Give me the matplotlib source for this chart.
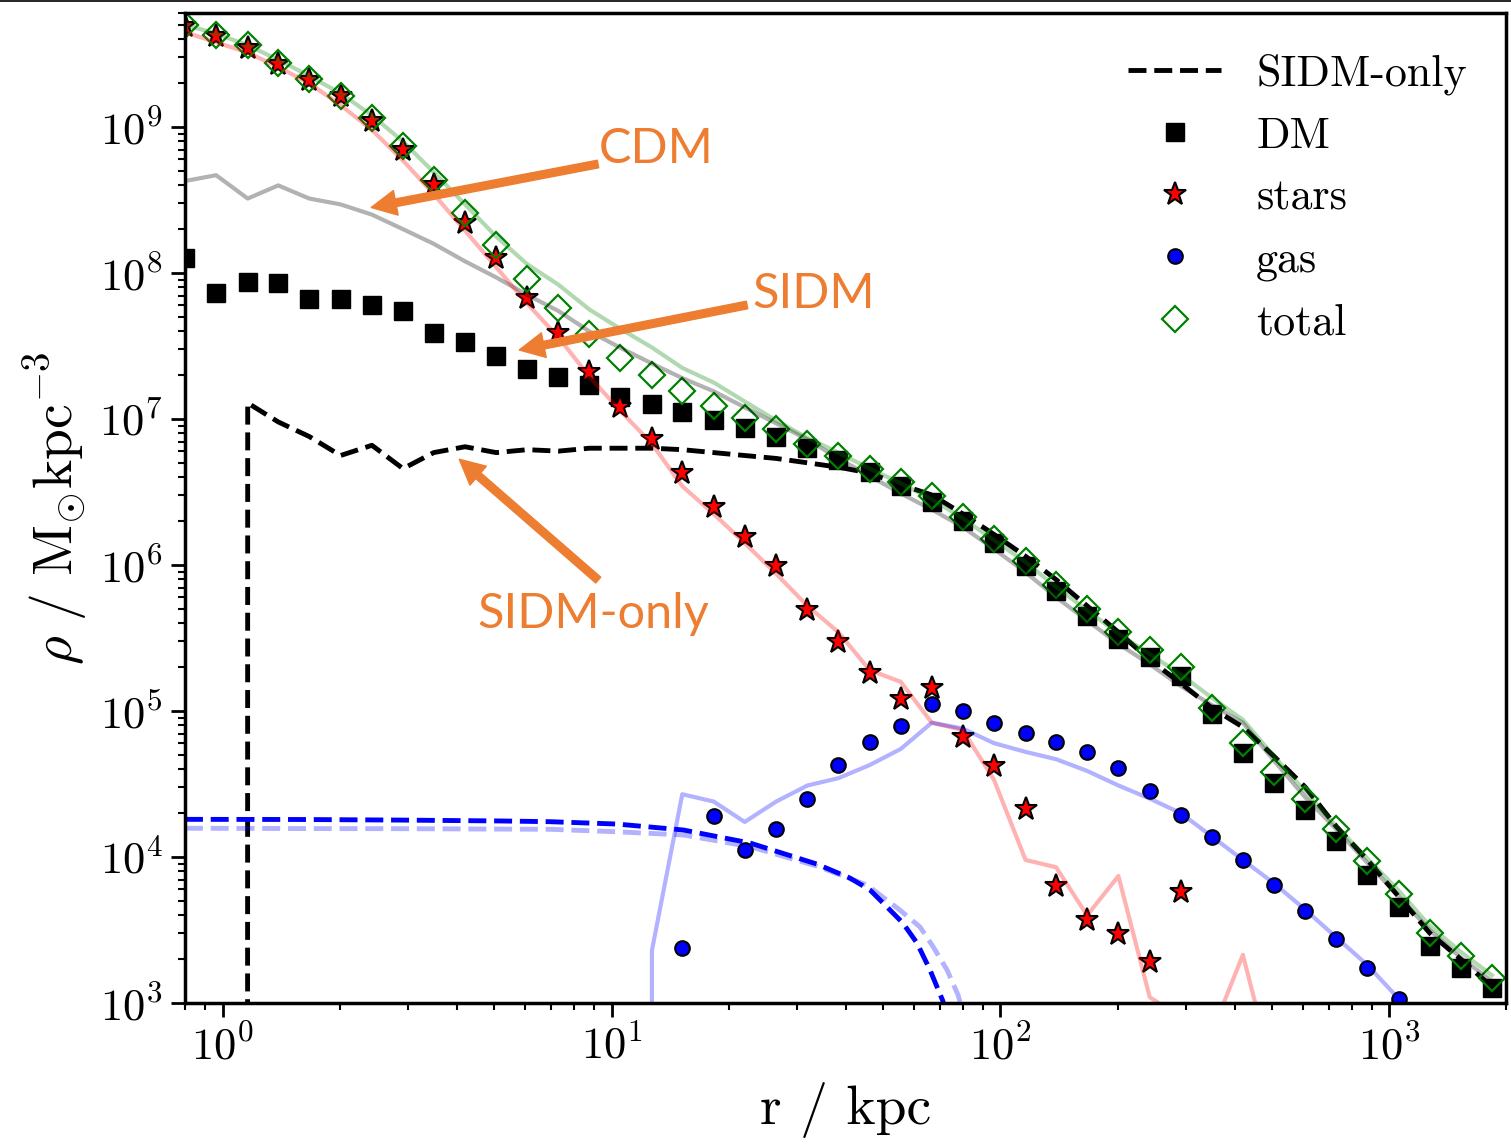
import numpy as np
import matplotlib
matplotlib.use("Agg")
import matplotlib.pyplot as plt
from matplotlib.ticker import NullFormatter

plt.rcParams['font.family'] = 'serif'
plt.rcParams['font.serif'] = ['cmr10']
plt.rcParams['mathtext.fontset'] = 'cm'
plt.rcParams['axes.formatter.use_mathtext'] = True
plt.rcParams['axes.unicode_minus'] = False

ninf = -np.inf   # empty bin -> zero density
nan = np.nan

# radial bins [kpc]
r = [0.800, 0.962, 1.16, 1.39, 1.67, 2.01, 2.42, 2.91, 3.49, 4.20, 5.05,
     6.07, 7.30, 8.77, 10.5, 12.7, 15.2, 18.3, 22.0, 26.5, 31.9, 38.3,
     46.1, 55.4, 66.6, 80.0, 96.2, 116, 139, 167, 201, 242, 291, 350,
     420, 505, 607, 730, 878, 1056, 1269, 1526, 1835]

# SIDM run, log10 density [Msun/kpc^3]
log_dm = [8.10, 7.86, 7.94, 7.93, 7.82, 7.82, 7.78, 7.74, 7.59, 7.53, 7.43,
          7.34, 7.29, 7.23, 7.15, 7.10, 7.05, 6.99, 6.94, 6.88, 6.80, 6.72,
          6.64, 6.54, 6.43, 6.30, 6.15, 5.99, 5.82, 5.65, 5.49, 5.37, 5.24,
          4.98, 4.71, 4.51, 4.32, 4.11, 3.88, 3.66, 3.39, 3.24, 3.10]
log_stars = [9.69, 9.62, 9.54, 9.43, 9.32, 9.21, 9.04, 8.84, 8.60, 8.34, 8.10,
             7.83, 7.59, 7.32, 7.08, 6.86, 6.63, 6.40, 6.19, 5.99, 5.69, 5.47,
             5.26, 5.08, 5.16, 4.82, 4.62, 4.33, 3.80, 3.57, 3.47, 3.28, 3.76,
             nan, nan, nan, nan, nan, nan, nan, nan, nan, nan]
log_gas = [nan] * 16 + [3.38, 4.28, 4.05, 4.19, 4.40, 4.63, 4.79, 4.90, 5.05,
                        5.00, 4.92, 4.85, 4.79, 4.72, 4.61, 4.45, 4.29, 4.14,
                        3.98, 3.81, 3.63, 3.44, 3.24, 3.03, nan, nan, nan]
log_total = [9.70, 9.63, 9.56, 9.44, 9.33, 9.21, 9.06, 8.87, 8.64, 8.41, 8.19,
             7.96, 7.76, 7.58, 7.42, 7.30, 7.19, 7.09, 7.01, 6.93, 6.83, 6.75,
             6.66, 6.57, 6.47, 6.33, 6.18, 6.03, 5.86, 5.70, 5.54, 5.42, 5.30,
             5.02, 4.78, 4.58, 4.40, 4.19, 3.97, 3.75, 3.48, 3.32, 3.17]
log_sidm_only = [ninf, ninf, 7.11, 6.98, 6.88, 6.75, 6.82, 6.66, 6.77, 6.81,
                 6.77, 6.79, 6.78, 6.80, 6.80, 6.80, 6.79, 6.77, 6.75, 6.73,
                 6.70, 6.67, 6.63, 6.55, 6.48, 6.35, 6.21, 6.06, 5.90, 5.72,
                 5.54, 5.35, 5.19, 5.02, 4.89, 4.69, 4.48, 4.21, 3.98, 3.73,
                 3.48, 3.30, 3.11]

# CDM run, log10 density
log_cdm_dm = [8.63, 8.67, 8.51, 8.60, 8.51, 8.47, 8.40, 8.30, 8.20, 8.08, 7.97,
              7.85, 7.74, 7.60, 7.49, 7.38, 7.28, 7.19, 7.08, 6.97, 6.86, 6.73,
              6.61, 6.49, 6.38, 6.26, 6.11, 5.95, 5.78, 5.62, 5.46, 5.32, 5.17,
              5.04, 4.92, 4.66, 4.41, 4.19, 3.96, 3.73, 3.50, 3.31, 3.15]
log_cdm_stars = [9.65, 9.58, 9.51, 9.41, 9.30, 9.15, 8.98, 8.77, 8.54, 8.29,
                 8.04, 7.79, 7.56, 7.29, 7.06, 6.83, 6.54, 6.35, 6.15, 5.94,
                 5.72, 5.54, 5.28, 5.20, 4.92, 4.87, 4.53, 3.98, 3.93, 3.60,
                 3.87, 3.04, 2.90, 2.80, 3.33, 2.50,
                 nan, nan, nan, nan, nan, nan, nan]
log_cdm_gas = [ninf] * 15 + [3.36, 4.43, 4.38, 4.24, 4.38, 4.49, 4.54, 4.63,
                             4.74, 4.92, 4.88, 4.78, 4.72, 4.67, 4.59, 4.49,
                             4.40, 4.30, 4.14, 3.98, 3.82, 3.64, 3.45, 3.26,
                             3.03, 2.75, nan, nan]
log_cdm_total = [9.70, 9.64, 9.56, 9.46, 9.35, 9.23, 9.08, 8.90, 8.69, 8.47,
                 8.25, 8.06, 7.92, 7.75, 7.62, 7.49, 7.35, 7.25, 7.12, 6.99,
                 6.87, 6.77, 6.66, 6.56, 6.45, 6.32, 6.17, 6.02, 5.85, 5.69,
                 5.53, 5.39, 5.25, 5.09, 4.94, 4.69, 4.45, 4.21, 3.99, 3.77,
                 3.53, 3.35, 3.19]

# smooth gas model profiles (SIDM dark, CDM light)
r_gas_model = [0.80, 1.58, 2.86, 5.16, 6.94, 10.3, 15.3, 22.7, 33.7, 41.0,
               46.2, 49.9, 56.1, 61.0, 65.9, 71.1, 74.2]
log_gas_model = [4.258, 4.257, 4.253, 4.247, 4.242, 4.226, 4.185, 4.096,
                 3.952, 3.856, 3.774, 3.685, 3.548, 3.411, 3.226, 3.014, 2.815]
r_gas_model_cdm = [0.80, 1.58, 2.86, 6.94, 10.3, 15.3, 22.7, 33.7, 45.4,
                   55.1, 62.1, 67.1, 72.9, 77.8, 81.1]
log_gas_model_cdm = [4.197, 4.195, 4.194, 4.190, 4.173, 4.151, 4.071, 3.938,
                     3.808, 3.637, 3.521, 3.386, 3.226, 3.055, 2.884]

ORANGE = '#ED7D31'


def dens(logs):
    return 10.0 ** np.asarray(logs, dtype=float)


fig = plt.figure(figsize=(15.11, 11.45), dpi=100)
ax = fig.add_axes([0.1224, 0.1240, 0.8746, 0.8643])

# SIDM
ax.plot(r, dens(log_sidm_only), ls='--', color='k', lw=3.5, label='SIDM-only')
ax.plot(r, dens(log_dm), ls='none', marker='s', ms=13.5, color='k', label='DM')
ax.plot(r, dens(log_stars), ls='none', marker='*', ms=17, mfc='red', mec='k',
        mew=1.5, label='stars')
ax.plot(r, dens(log_gas), ls='none', marker='o', ms=10.5, mfc='blue', mec='k',
        mew=1.5, label='gas')
ax.plot(r, dens(log_total), ls='none', marker='D', ms=13, mfc='none',
        mec='green', mew=1.6, label='total')
ax.plot(r_gas_model, dens(log_gas_model), ls='--', color='blue', lw=3.5)

# CDM
ax.plot(r, dens(log_cdm_dm), color='k', alpha=0.3, lw=3)
ax.plot(r, dens(log_cdm_stars), color='red', alpha=0.3, lw=3)
ax.plot(r, dens(log_cdm_gas), color='blue', alpha=0.3, lw=3)
ax.plot(r, dens(log_cdm_total), color='green', alpha=0.3, lw=3)
ax.plot(r_gas_model_cdm, dens(log_gas_model_cdm), ls='--', color='blue',
        alpha=0.3, lw=3.5)

ax.set_xscale('log')
ax.set_yscale('log')
ax.set_xlim(0.8, 2000)
ax.set_ylim(1e3, 6e9)
ax.xaxis.set_minor_formatter(NullFormatter())
ax.yaxis.set_minor_formatter(NullFormatter())

arrow = dict(color=ORANGE, width=5.5, headwidth=18, headlength=18, shrink=0)
ax.annotate('', xy=(2.41, 2.81e8), xytext=(9.23, 5.58e8), arrowprops=arrow)
ax.annotate('', xy=(5.79, 2.97e7), xytext=(22.3, 6.04e7), arrowprops=arrow)
ax.annotate('', xy=(4.06, 5.30e6), xytext=(9.24, 7.89e5), arrowprops=arrow)
label_kw = dict(color=ORANGE, fontsize=35, family='Lato', weight='normal',
                ha='center', va='baseline')
ax.text(13.05, 5.64e8, 'CDM', **label_kw)
ax.text(33.15, 5.73e7, 'SIDM', **label_kw)
ax.text(8.97, 3.68e5, 'SIDM-only', **label_kw)

ax.set_xlabel('r / kpc', fontsize=40, labelpad=10)
ax.set_ylabel(r'$\rho\ /\ \mathrm{M_{\odot}kpc^{-3}}$', fontsize=40,
              labelpad=6)

for s in ax.spines.values():
    s.set_linewidth(2.5)
ax.tick_params(which='major', length=10, width=2, labelsize=32, pad=6,
               direction='out')
ax.tick_params(which='minor', length=5, width=1.5, direction='out')

ax.legend(loc='upper right', frameon=False, fontsize=31.7, handlelength=2.1,
          handletextpad=0.8, labelspacing=0.5, numpoints=1,
          borderaxespad=0.5)

# thin rule along the top of the figure
fig.add_artist(plt.Line2D([0, 1], [0.9993, 0.9993], color='k', lw=1.2))

fig.savefig('out.png', dpi=100)
